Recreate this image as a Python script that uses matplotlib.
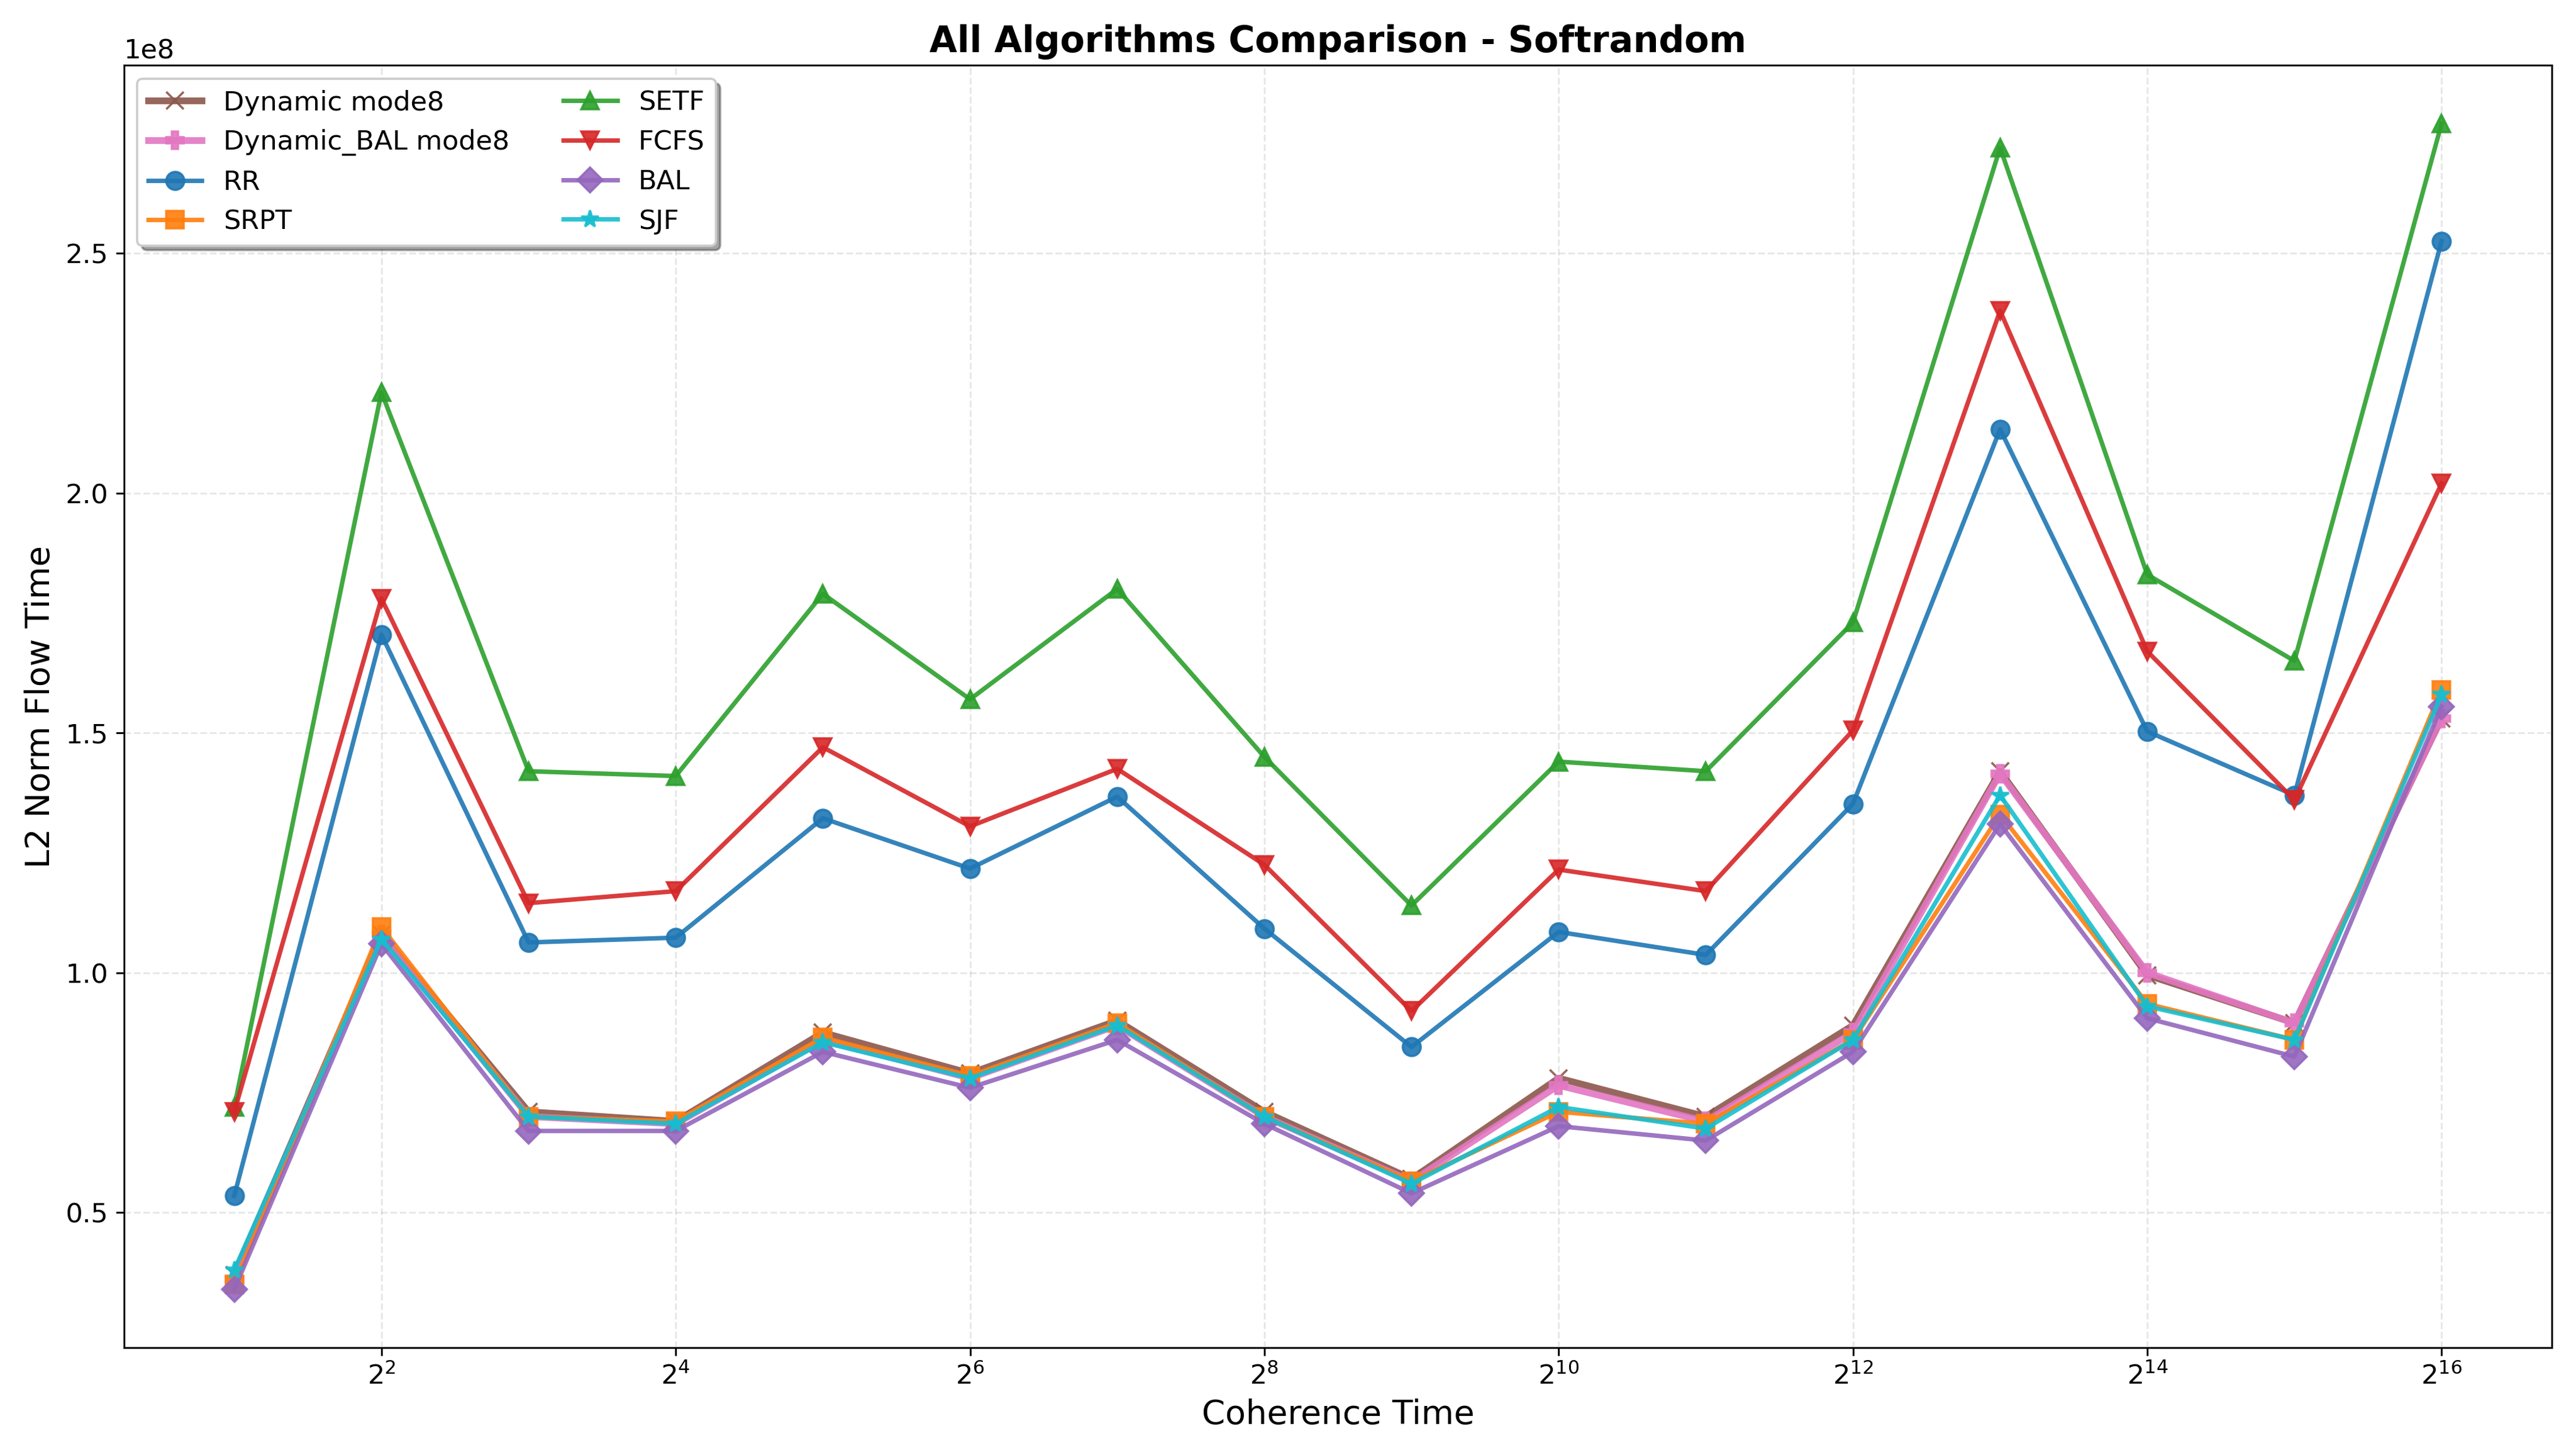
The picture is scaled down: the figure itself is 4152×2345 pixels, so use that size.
import matplotlib
matplotlib.use("Agg")
import matplotlib.pyplot as plt

coherence=[2**i for i in range(1,17)]
dynamic_mode8=[0.37,1.08,0.71,0.69,0.875,0.79,0.90,0.71,0.57,0.78,0.70,0.89,1.42,0.995,0.895,1.53]
dynamic_bal_mode8=[0.36,1.08,0.70,0.685,0.86,0.78,0.89,0.70,0.565,0.765,0.69,0.875,1.415,1.0,0.895,1.53]
rr=[0.535,1.705,1.063,1.073,1.322,1.217,1.367,1.092,0.845,1.085,1.037,1.352,2.133,1.503,1.37,2.525]
srpt=[0.35,1.095,0.70,0.69,0.865,0.785,0.895,0.70,0.565,0.71,0.685,0.86,1.33,0.935,0.86,1.59]
setf=[0.72,2.21,1.42,1.41,1.79,1.57,1.80,1.45,1.14,1.44,1.42,1.73,2.72,1.83,1.65,2.77]
fcfs=[0.71,1.78,1.145,1.17,1.47,1.305,1.425,1.225,0.92,1.215,1.17,1.505,2.38,1.67,1.36,2.02]
bal=[0.34,1.06,0.67,0.67,0.835,0.76,0.86,0.685,0.54,0.68,0.65,0.835,1.31,0.905,0.825,1.555]
sjf=[0.38,1.07,0.70,0.685,0.855,0.78,0.89,0.70,0.56,0.72,0.675,0.86,1.37,0.93,0.86,1.58]

series=[("Dynamic mode8",dynamic_mode8,"tab:brown","x",3),
	("Dynamic_BAL mode8",dynamic_bal_mode8,"tab:pink","P",3),
	("RR",rr,"tab:blue","o",2),
	("SRPT",srpt,"tab:orange","s",2),
	("SETF",setf,"tab:green","^",2),
	("FCFS",fcfs,"tab:red","v",2),
	("BAL",bal,"tab:purple","D",2),
	("SJF",sjf,"tab:cyan","*",2)]

fig,ax=plt.subplots(figsize=(15.97,9.02),dpi=260)
for name,vals,col,mk,lw in series:
	ax.plot(coherence,[v*1e8 for v in vals],color=col,marker=mk,markersize=8,linewidth=lw,alpha=0.9,label=name)
ax.set_xscale("log",base=2)
ax.set_xticks([2**i for i in range(2,17,2)])
ax.tick_params(labelsize=12)
ax.set_xlabel("Coherence Time",fontsize=15)
ax.set_ylabel("L2 Norm Flow Time",fontsize=15)
ax.set_title("All Algorithms Comparison - Softrandom",fontsize=16,fontweight="bold")
ax.grid(True,linestyle="--",alpha=0.3)
ax.yaxis.get_offset_text().set_fontsize(12)
ax.legend(loc="upper left",ncol=2,fontsize=12,shadow=True)
fig.tight_layout()
fig.savefig("out.png")
